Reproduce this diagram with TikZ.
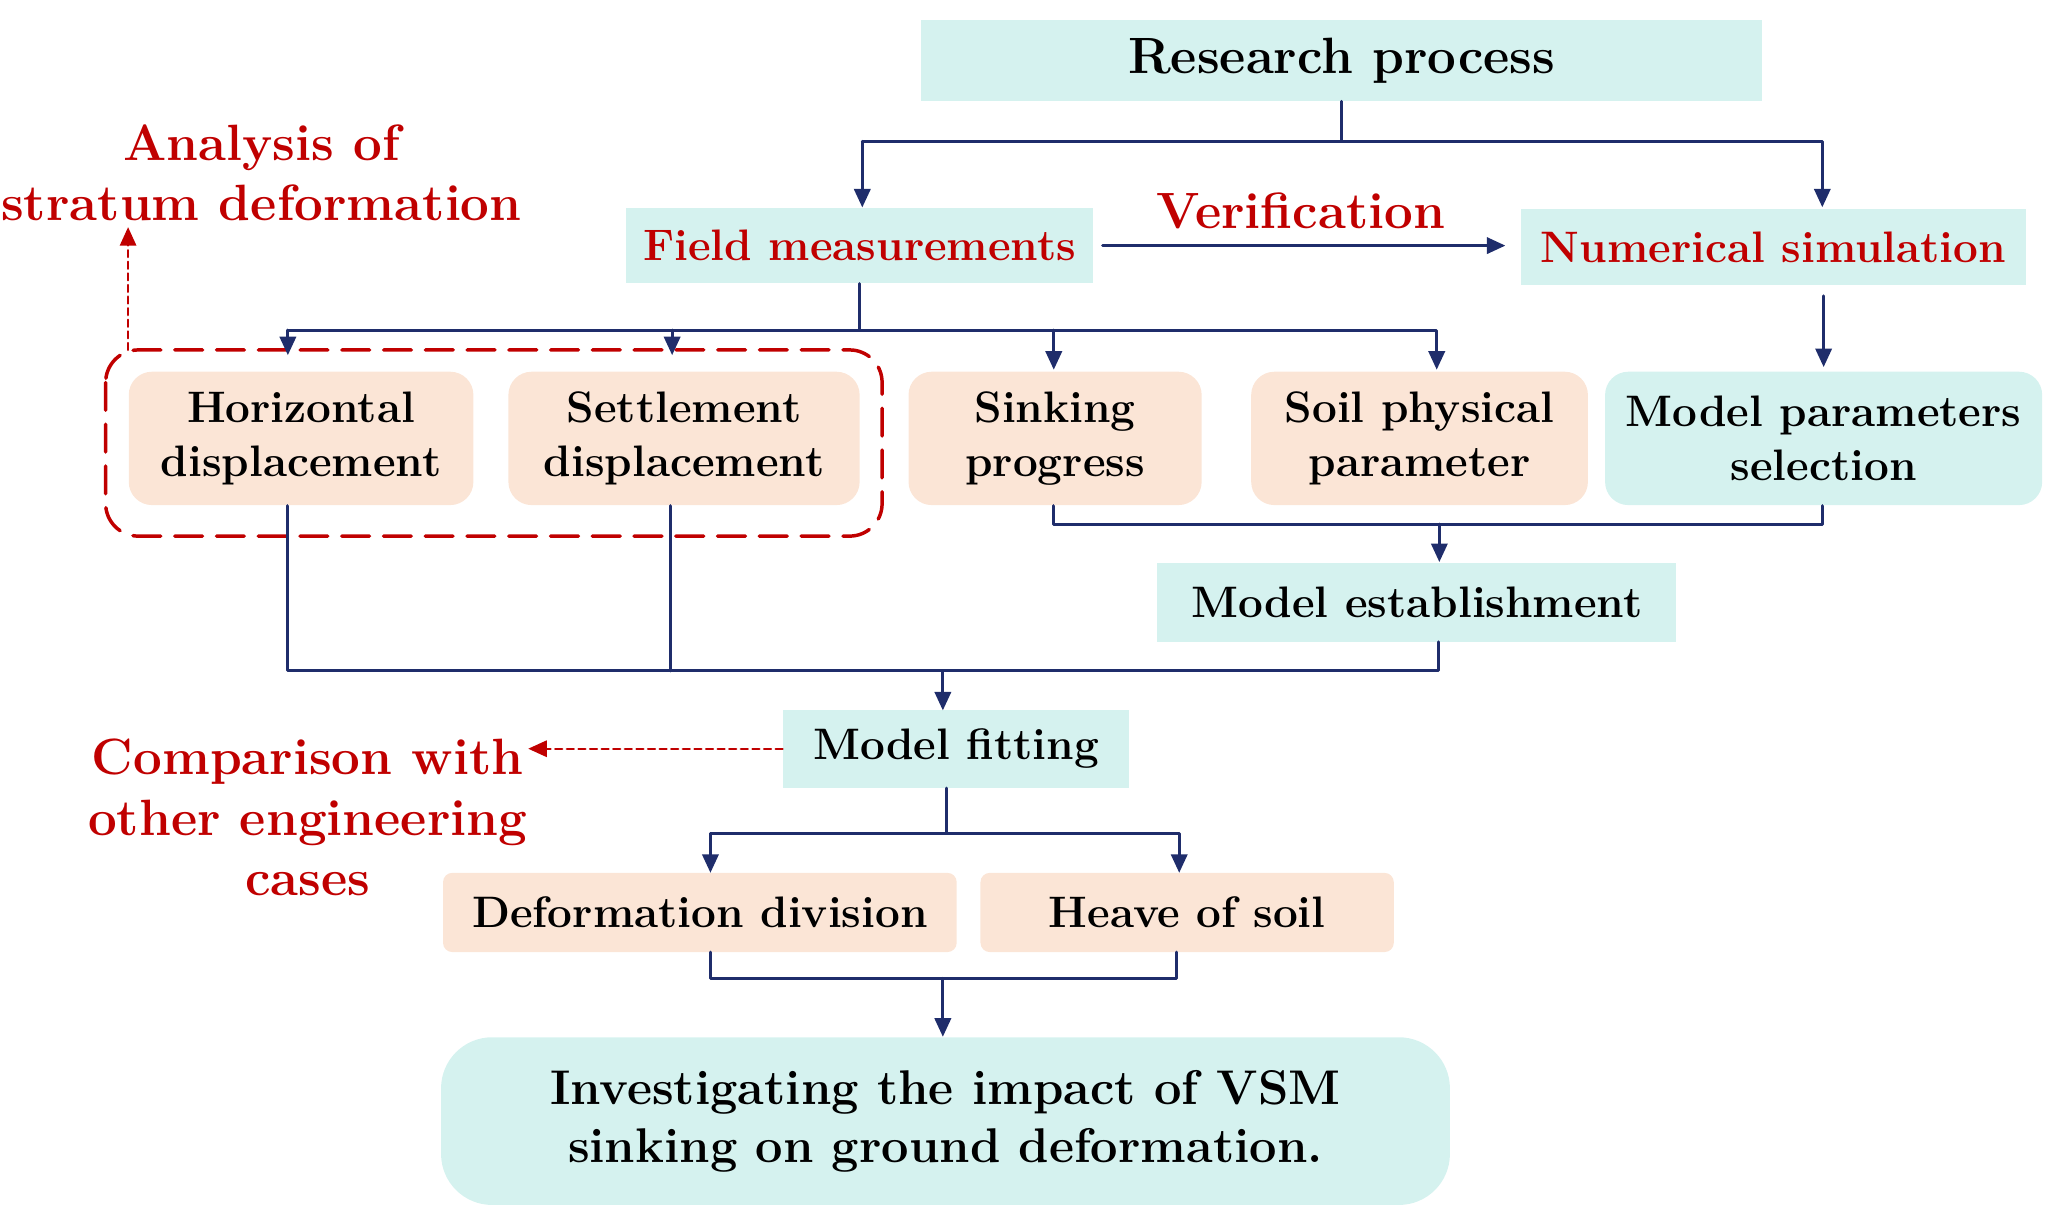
\documentclass[tikz,border=0pt]{standalone}
\usetikzlibrary{arrows.meta}
\definecolor{tealbox}{HTML}{D5F2EF}
\definecolor{peachbox}{HTML}{FBE5D6}
\definecolor{navy}{HTML}{1F2D6B}
\definecolor{darkred}{HTML}{C00000}
\begin{document}
\begin{tikzpicture}[x=0.02cm, y=-0.02cm, line cap=round, line join=round, >={Triangle[length=8pt,width=7pt]},
  every node/.style={font=\fontsize{19}{23}\selectfont\bfseries, align=center, inner sep=0pt},
  big/.style={font=\fontsize{22}{26}\selectfont\bfseries},
  tealn/.style={fill=tealbox},
  peachn/.style={fill=peachbox, rounded corners=10pt},
  link/.style={navy, line width=1.3pt}]
\useasboundingbox (0,0) rectangle (1560,925);

% boxes
\node[tealn, big, minimum width=637*0.02cm, minimum height=61*0.02cm] (research) at (1016,46) {Research process};
\node[tealn, text=darkred, minimum width=354*0.02cm, minimum height=57*0.02cm] (field) at (651,186) {Field measurements};
\node[tealn, text=darkred, minimum width=382*0.02cm, minimum height=58*0.02cm] (numsim) at (1343,187) {Numerical simulation};
\node[text=darkred, big] (verif) at (985,160) {Verification};

\node[peachn, minimum width=261*0.02cm, minimum height=101*0.02cm] (horiz) at (228,332) {Horizontal\\displacement};
\node[peachn, minimum width=266*0.02cm, minimum height=101*0.02cm] (settle) at (518,332) {Settlement\\displacement};
\node[peachn, minimum width=222*0.02cm, minimum height=101*0.02cm] (sinking) at (799,332) {Sinking\\progress};
\node[peachn, minimum width=255*0.02cm, minimum height=101*0.02cm] (soil) at (1075,332) {Soil physical\\parameter};
\node[tealn, rounded corners=10pt, minimum width=331*0.02cm, minimum height=101*0.02cm] (param) at (1381,332) {Model parameters\\selection};

\node[tealn, minimum width=393*0.02cm, minimum height=60*0.02cm] (establish) at (1073,456) {Model establishment};
\node[tealn, minimum width=262*0.02cm, minimum height=59*0.02cm] (fitting) at (724,567) {Model fitting};
\node[peachn, rounded corners=4pt, minimum width=389*0.02cm, minimum height=60*0.02cm] (division) at (530,691) {Deformation division};
\node[peachn, rounded corners=4pt, minimum width=313*0.02cm, minimum height=60*0.02cm] (heave) at (899,691) {Heave of soil};
\node[tealn, rounded corners=22pt, minimum width=764*0.02cm, minimum height=127*0.02cm, font=\fontsize{21}{25}\selectfont\bfseries] (goal) at (716,849) {Investigating the impact of VSM\\sinking on ground deformation.};

\node[text=darkred, big] (analysis) at (198,131) {Analysis of\\stratum deformation};
\node[text=darkred, big] (compare) at (233,619) {Comparison with\\other engineering\\cases};

% dashed group
\draw[darkred, line width=1.5pt, dash pattern=on 12pt off 6pt, rounded corners=14pt] (80,265) rectangle (668,406);
\draw[darkred, line width=1pt, densely dashed, ->] (97,265) -- (97,172);
\draw[darkred, line width=1pt, densely dashed, ->] (fitting.west) -- (400,567);

% connectors
\draw[link] (research.south) -- (1016,107) coordinate (r1);
\draw[link, ->] (653,107) -- (field.north -| 653,0);
\draw[link, ->] (653,107) -- (1380,107) -- (1380,157);
\draw[link, ->] (835,186) -- (1140,186);
\draw[link] (field.south) -- (651,250);
\draw[link, ->] (218,250) -- (218,269);
\draw[link, ->] (509,250) -- (509,269);
\draw[link, ->] (798,250) -- (798,280);
\draw[link, ->] (218,250) -- (1088,250) -- (1088,280);
\draw[link, ->] (1381,224) -- (1381,278);
\draw[link] (798,383) -- (798,397) -- (1380,397) -- (1380,383);
\draw[link, ->] (1090,397) -- (establish.north -| 1090,0);
\draw[link] (218,383) -- (218,508) -- (1089,508) -- (1089,486);
\draw[link] (508,383) -- (508,508);
\draw[link, ->] (714,508) -- (714,538);
\draw[link] (fitting.south -| 717,0) -- (717,631);
\draw[link, ->] (717,631) -- (538,631) -- (538,661);
\draw[link, ->] (717,631) -- (893,631) -- (893,661);
\draw[link] (538,721) -- (538,741) -- (891,741) -- (891,721);
\draw[link, ->] (714,741) -- (goal.north -| 714,0);
\end{tikzpicture}
\end{document}
